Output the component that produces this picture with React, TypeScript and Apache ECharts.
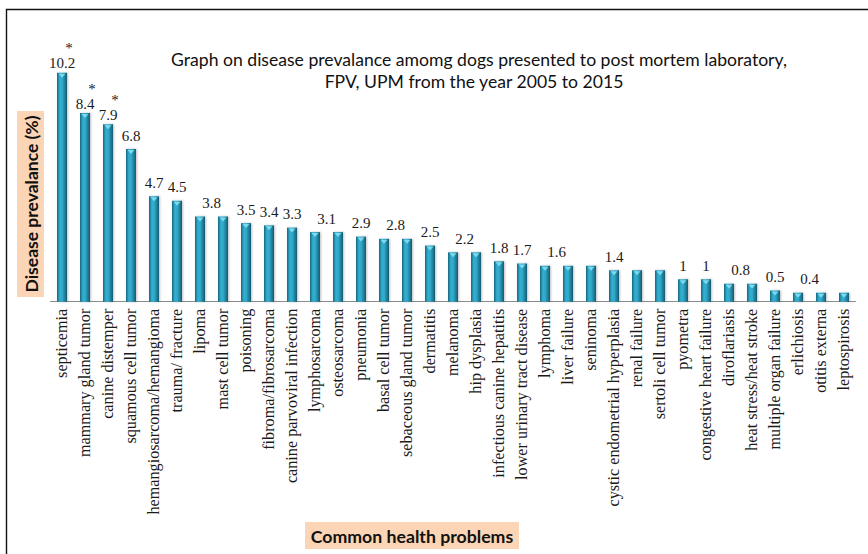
import React, { useEffect, useRef } from "react";
import * as echarts from "echarts";

const categories = [
  "septicemia",
  "mammary gland tumor",
  "canine distemper",
  "squamous cell tumor",
  "hemangiosarcoma/hemangioma",
  "trauma/ fracture",
  "lipoma",
  "mast cell tumor",
  "poisoning",
  "fibroma/fibrosarcoma",
  "canine parvoviral infection",
  "lymphosarcoma",
  "osteosarcoma",
  "pneumonia",
  "basal cell tumor",
  "sebaceous gland tumor",
  "dermatitis",
  "melanoma",
  "hip dysplasia",
  "infectious canine hepatitis",
  "lower urinary tract disease",
  "lymphoma",
  "liver failure",
  "seninoma",
  "cystic endometrial hyperplasia",
  "renal failure",
  "sertoli cell tumor",
  "pyometra",
  "congestive heart failure",
  "diroflariasis",
  "heat stress/heat stroke",
  "multiple organ failure",
  "erlichiosis",
  "otitis externa",
  "leptospirosis",
];

const prevalence = [
  10.2, 8.4, 7.9, 6.8, 4.7, 4.5, 3.8, 3.8, 3.5, 3.4, 3.3, 3.1, 3.1, 2.9, 2.8,
  2.8, 2.5, 2.2, 2.2, 1.8, 1.7, 1.6, 1.6, 1.6, 1.4, 1.4, 1.4, 1, 1, 0.8, 0.8,
  0.5, 0.4, 0.4, 0.4,
];

// value label text shown above each bar ("" = no label)
const valueLabels = [
  "10.2", "8.4", "7.9", "6.8", "4.7", "4.5", "3.8", "", "3.5", "3.4", "3.3",
  "3.1", "", "2.9", "2.8", "", "2.5", "2.2", "", "1.8", "1.7", "1.6", "", "",
  "1.4", "", "", "1", "1", "0.8", "", "0.5", "0.4", "", "",
];

// bars marked with an asterisk
const starred = ["septicemia", "mammary gland tumor", "canine distemper"];

// labels shared by this bar and the next one (drawn between them)
const sharedWithNext = [
  "lipoma",
  "lymphosarcoma",
  "basal cell tumor",
  "melanoma",
  "lymphoma",
  "diroflariasis",
  "erlichiosis",
];

const titleLines = [
  "Graph on disease prevalance amomg dogs presented to post mortem laboratory,",
  "FPV, UPM from the year 2005 to 2015",
];
const yTitle = "Disease prevalance (%)";
const xTitle = "Common health problems";

const W = 868;
const H = 554;
const BAND = (W - 50.5 - 12.5) / categories.length;

export default function App() {
  const ref = useRef<HTMLDivElement>(null);

  useEffect(() => {
    if (!ref.current) return;
    const chart = echarts.init(ref.current, undefined, { renderer: "svg" });

    const barData = prevalence.map((v, i) => {
      const txt = valueLabels[i];
      const name = categories[i];
      const isStar = starred.includes(name);
      const shift = sharedWithNext.includes(name) ? BAND / 2 : 0;
      return {
        value: v,
        label: txt
          ? {
              show: true,
              position: "top",
              distance: isStar ? 2 : 6,
              offset: [shift, 0],
              formatter: isStar ? `{s|*}\n{v|${txt}}` : `{v|${txt}}`,
            }
          : { show: false },
      };
    });

    const titleStyle = {
      fontFamily: "Lato",
      fontSize: 17.6,
      fill: "#111",
      align: "center",
      verticalAlign: "middle",
    };

    const option = {
      animation: false,
      backgroundColor: "#ffffff",
      grid: { left: 50.5, right: 12.5, top: 72.7, bottom: 252.3 },
      xAxis: {
        type: "category",
        data: categories,
        axisLine: { show: true, lineStyle: { color: "#8c8c8c", width: 1.2 } },
        axisTick: { show: false },
        axisLabel: {
          interval: 0,
          rotate: 90,
          margin: 7,
          color: "#1a1a1a",
          fontFamily: "Liberation Serif",
          fontSize: 16.2,
        },
      },
      yAxis: {
        type: "value",
        min: 0,
        max: 10.2,
        show: false,
      },
      series: [
        {
          type: "bar",
          data: barData,
          barWidth: 10,
          itemStyle: {
            color: new echarts.graphic.LinearGradient(0, 0, 1, 0, [
              { offset: 0, color: "#17667e" },
              { offset: 0.3, color: "#34b1d2" },
              { offset: 0.55, color: "#2ea6c6" },
              { offset: 1, color: "#135a70" },
            ]),
            shadowColor: "rgba(0,0,0,0.25)",
            shadowBlur: 2,
            shadowOffsetX: 1,
          },
          label: {
            color: "#1a1a1a",
            fontFamily: "Liberation Serif",
            rich: {
              s: {
                fontFamily: "Liberation Serif",
                fontSize: 15,
                lineHeight: 15,
                padding: [0, 0, 0, 14],
                color: "#1a1a1a",
              },
              v: {
                fontFamily: "Liberation Serif",
                fontSize: 15,
                lineHeight: 15,
                color: "#1a1a1a",
              },
            },
          },
          z: 2,
        },
        {
          type: "scatter",
          data: prevalence,
          symbol: "triangle",
          symbolRotate: 180,
          symbolSize: [7, 4],
          symbolOffset: [0, 3],
          itemStyle: { color: "#8fe6f8" },
          silent: true,
          z: 3,
        },
      ],
      graphic: [
        {
          type: "polyline",
          shape: { points: [[6.5, H], [6.5, 9.5], [W, 9.5]] },
          style: { stroke: "#111", lineWidth: 1.4, fill: "none" },
        },
        {
          type: "text",
          x: 479,
          y: 59.5,
          style: { ...titleStyle, text: titleLines[0] },
        },
        {
          type: "text",
          x: 474,
          y: 81.5,
          style: { ...titleStyle, text: titleLines[1] },
        },
        {
          type: "rect",
          shape: { x: 17, y: 111, width: 27, height: 186 },
          style: { fill: "#fbd5b5" },
        },
        {
          type: "text",
          x: 31,
          y: 204,
          rotation: Math.PI / 2,
          style: {
            text: yTitle,
            fontFamily: "Lato",
            fontWeight: "bold",
            fontSize: 17.5,
            fill: "#111",
            align: "center",
            verticalAlign: "middle",
          },
        },
        {
          type: "rect",
          shape: { x: 305, y: 522, width: 214, height: 27 },
          style: { fill: "#fbd5b5" },
        },
        {
          type: "text",
          x: 412,
          y: 536,
          style: {
            text: xTitle,
            fontFamily: "Lato",
            fontWeight: "bold",
            fontSize: 17.7,
            fill: "#111",
            align: "center",
            verticalAlign: "middle",
          },
        },
      ],
    };

    chart.setOption(option as any);
    return () => chart.dispose();
  }, []);

  return (
    <div
      ref={ref}
      style={{ position: "fixed", left: 0, top: 0, width: W, height: H }}
    />
  );
}
